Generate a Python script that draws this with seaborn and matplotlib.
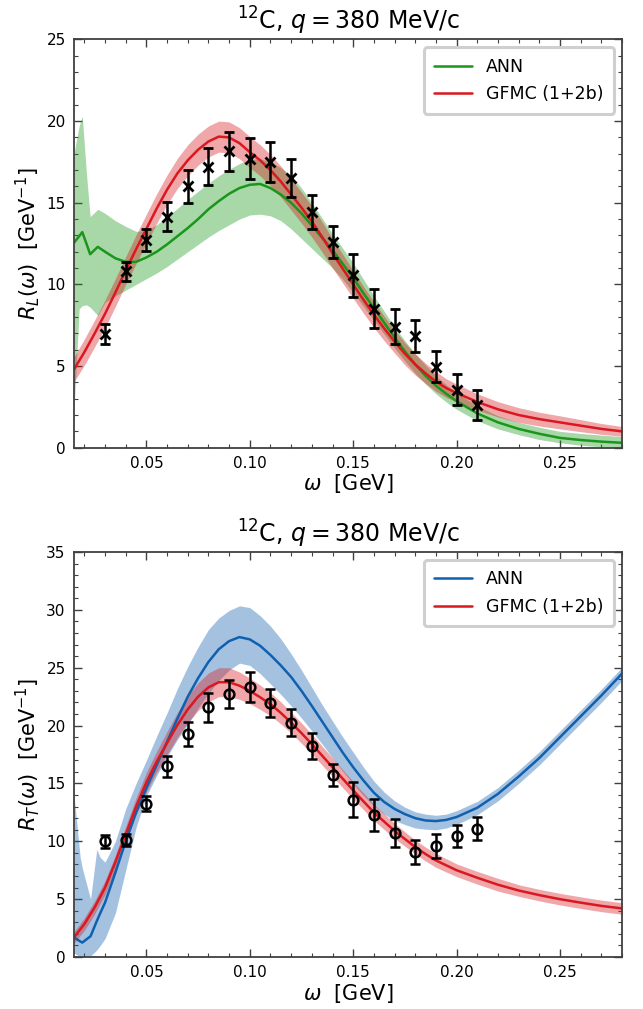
import numpy as np
import pandas as pd
import matplotlib
matplotlib.use("Agg")
import matplotlib.pyplot as plt
import seaborn as sns
from matplotlib.ticker import MultipleLocator, FormatStrFormatter

# ---- data ----
# experimental points (same omega grid for both panels)
omega_data = [0.03, 0.04, 0.05, 0.06, 0.07, 0.08, 0.09, 0.10, 0.11, 0.12,
              0.13, 0.14, 0.15, 0.16, 0.17, 0.18, 0.19, 0.20, 0.21]
RL_data = [6.95, 10.8, 12.72, 14.15, 16.0, 17.2, 18.15, 17.7, 17.5, 16.5,
           14.45, 12.6, 10.55, 8.5, 7.4, 6.85, 4.95, 3.55, 2.6]
RL_err = [0.63, 0.6, 0.7, 0.87, 1.0, 1.14, 1.18, 1.25, 1.2, 1.15,
          1.05, 1.0, 1.3, 1.2, 1.07, 0.97, 0.95, 0.94, 0.93]
RT_data = [10.0, 10.1, 13.25, 16.5, 19.3, 21.6, 22.7, 23.3, 21.95, 20.25,
           18.25, 15.75, 13.6, 12.25, 10.7, 9.05, 9.6, 10.45, 11.1]
RT_err = [0.55, 0.5, 0.65, 0.9, 1.05, 1.25, 1.2, 1.3, 1.2, 1.15,
          1.1, 0.95, 1.5, 1.4, 1.2, 1.05, 1.03, 0.98, 1.0]

# ANN longitudinal response (central line and band edges)
omega_ann_L = [0.015, 0.0175, 0.019, 0.021, 0.0228, 0.0265, 0.03, 0.035, 0.04, 0.045,
               0.05, 0.055, 0.06, 0.065, 0.07, 0.075, 0.08, 0.085, 0.09, 0.095,
               0.10, 0.105, 0.11, 0.115, 0.12, 0.125, 0.13, 0.135, 0.14, 0.145,
               0.15, 0.155, 0.16, 0.165, 0.17, 0.175, 0.18, 0.185, 0.19, 0.195,
               0.20, 0.21, 0.22, 0.23, 0.24, 0.25, 0.26, 0.27, 0.28]
ann_L = [12.55, 12.95, 13.2, 12.5, 11.85, 12.3, 12.0, 11.6, 11.38, 11.38,
         11.65, 12.0, 12.45, 12.95, 13.45, 14.0, 14.6, 15.1, 15.55, 15.9,
         16.1, 16.15, 15.9, 15.5, 15.0, 14.35, 13.6, 12.85, 12.1, 11.25,
         10.4, 9.45, 8.55, 7.65, 6.75, 5.9, 5.1, 4.4, 3.8, 3.3,
         2.85, 2.1, 1.55, 1.15, 0.85, 0.6, 0.47, 0.37, 0.3]
ann_L_lo = [2.3, 8.5, 8.7, 8.75, 8.6, 8.1, 8.9, 9.3, 9.65, 10.0,
            10.35, 10.7, 11.1, 11.55, 12.0, 12.45, 12.9, 13.3, 13.65, 14.0,
            14.25, 14.3, 14.2, 13.9, 13.4, 12.8, 12.2, 11.6, 11.0, 10.3,
            9.5, 8.65, 7.8, 6.95, 6.1, 5.3, 4.55, 3.9, 3.3, 2.8,
            2.35, 1.65, 1.15, 0.8, 0.5, 0.3, 0.15, 0.05, 0.0]
ann_L_hi = [18.05, 19.7, 20.3, 16.8, 14.15, 14.6, 14.35, 13.9, 13.55, 13.25,
            13.3, 13.65, 14.15, 14.65, 15.2, 15.7, 16.2, 16.65, 17.05, 17.4,
            17.65, 17.7, 17.5, 17.15, 16.65, 15.9, 15.0, 14.05, 13.1, 12.2,
            11.3, 10.3, 9.3, 8.35, 7.4, 6.55, 5.75, 5.05, 4.4, 3.85,
            3.35, 2.55, 1.95, 1.55, 1.25, 1.0, 0.87, 0.77, 0.68]

# GFMC longitudinal response
omega_gfmc_L = [0.015, 0.02, 0.025, 0.03, 0.035, 0.04, 0.045, 0.05, 0.055, 0.06,
                0.065, 0.07, 0.075, 0.08, 0.085, 0.09, 0.095, 0.10, 0.105, 0.11,
                0.115, 0.12, 0.125, 0.13, 0.135, 0.14, 0.145, 0.15, 0.155, 0.16,
                0.165, 0.17, 0.175, 0.18, 0.185, 0.19, 0.195, 0.20, 0.21, 0.22,
                0.23, 0.24, 0.25, 0.26, 0.27, 0.28]
gfmc_L = [4.8, 5.85, 7.0, 8.2, 9.5, 10.85, 12.15, 13.4, 14.65, 15.8,
          16.8, 17.6, 18.25, 18.75, 19.05, 19.0, 18.65, 18.1, 17.6, 17.0,
          16.3, 15.5, 14.7, 13.85, 12.9, 11.9, 10.95, 10.0, 9.05, 8.15,
          7.3, 6.5, 5.75, 5.1, 4.55, 4.05, 3.65, 3.35, 2.8, 2.35,
          2.0, 1.75, 1.55, 1.35, 1.15, 1.0]
gfmc_L_err = [0.75, 0.8, 0.82, 0.85, 0.85, 0.85, 0.88, 0.9, 0.9, 0.9,
              0.92, 0.95, 0.95, 0.95, 0.95, 0.95, 0.95, 0.95, 0.95, 0.95,
              0.95, 0.95, 0.95, 0.95, 0.92, 0.9, 0.88, 0.85, 0.82, 0.8,
              0.75, 0.7, 0.68, 0.65, 0.62, 0.6, 0.57, 0.55, 0.5, 0.47,
              0.45, 0.42, 0.4, 0.37, 0.33, 0.3]

# ANN transverse response
omega_ann_T = [0.015, 0.018, 0.019, 0.023, 0.026, 0.0277, 0.03, 0.035, 0.04, 0.045,
               0.05, 0.055, 0.06, 0.065, 0.07, 0.075, 0.08, 0.085, 0.09, 0.095,
               0.10, 0.105, 0.11, 0.115, 0.12, 0.125, 0.13, 0.135, 0.14, 0.145,
               0.15, 0.155, 0.16, 0.165, 0.17, 0.175, 0.18, 0.185, 0.19, 0.195,
               0.20, 0.21, 0.22, 0.23, 0.24, 0.25, 0.26, 0.27, 0.28]
ann_T = [1.7, 1.35, 1.25, 1.8, 3.1, 3.8, 4.7, 7.3, 10.0, 12.5,
         14.6, 16.6, 18.6, 20.6, 22.5, 24.1, 25.5, 26.6, 27.3, 27.65,
         27.45, 26.9, 26.1, 25.2, 24.2, 23.0, 21.7, 20.35, 19.0, 17.65,
         16.4, 15.25, 14.2, 13.4, 12.8, 12.35, 12.0, 11.8, 11.75, 11.85,
         12.1, 12.9, 14.1, 15.6, 17.2, 19.0, 20.8, 22.6, 24.5]
ann_T_lo = [0.35, 0.0, 0.0, 0.1, 0.6, 1.0, 1.6, 3.8, 7.5, 11.2,
            13.9, 15.7, 17.3, 18.8, 20.1, 21.5, 22.8, 23.9, 24.8, 25.4,
            25.2, 24.5, 23.6, 22.7, 21.7, 20.65, 19.55, 18.4, 17.2, 16.05,
            14.95, 13.95, 13.05, 12.35, 11.8, 11.45, 11.15, 11.05, 11.0, 11.15,
            11.45, 12.3, 13.5, 15.0, 16.6, 18.4, 20.2, 22.0, 23.9]
ann_T_hi = [14.0, 8.6, 7.7, 5.0, 9.3, 8.6, 8.2, 10.0, 12.8, 15.0,
            17.0, 19.1, 21.1, 23.2, 25.1, 26.8, 28.3, 29.3, 29.95, 30.35,
            30.2, 29.5, 28.6, 27.5, 26.2, 24.8, 23.3, 21.8, 20.4, 19.0,
            17.7, 16.4, 15.2, 14.25, 13.5, 12.95, 12.55, 12.35, 12.25, 12.35,
            12.65, 13.45, 14.65, 16.15, 17.75, 19.55, 21.35, 23.15, 25.05]

# GFMC transverse response
omega_gfmc_T = [0.015, 0.02, 0.025, 0.03, 0.035, 0.04, 0.045, 0.05, 0.055, 0.06,
                0.065, 0.07, 0.075, 0.08, 0.085, 0.09, 0.095, 0.10, 0.105, 0.11,
                0.115, 0.12, 0.125, 0.13, 0.135, 0.14, 0.145, 0.15, 0.155, 0.16,
                0.165, 0.17, 0.175, 0.18, 0.185, 0.19, 0.20, 0.21, 0.22, 0.23,
                0.24, 0.25, 0.26, 0.27, 0.28]
gfmc_T = [1.7, 2.85, 4.3, 6.0, 8.2, 10.6, 13.0, 15.1, 16.9, 18.5,
          20.05, 21.4, 22.5, 23.3, 23.75, 23.75, 23.45, 23.0, 22.45, 21.85,
          21.1, 20.25, 19.35, 18.4, 17.4, 16.4, 15.4, 14.4, 13.45, 12.5,
          11.7, 10.9, 10.2, 9.5, 8.9, 8.35, 7.5, 6.85, 6.25, 5.75,
          5.35, 5.0, 4.7, 4.42, 4.2]
gfmc_T_err = [0.5, 0.55, 0.57, 0.6, 0.62, 0.7, 0.75, 0.85, 0.9, 1.0,
              1.08, 1.15, 1.2, 1.25, 1.25, 1.25, 1.18, 1.1, 1.05, 1.0,
              0.95, 0.9, 0.88, 0.85, 0.82, 0.8, 0.78, 0.75, 0.72, 0.7,
              0.68, 0.65, 0.62, 0.6, 0.6, 0.6, 0.55, 0.55, 0.55, 0.5,
              0.5, 0.5, 0.5, 0.5, 0.5]

GREEN = "#1a961a"
RED = "#d9181f"
BLUE = "#1060b0"
SPINE = "#404040"

sns.set_style("ticks")
plt.rcParams["font.family"] = ["DejaVu Sans"]
plt.rcParams["mathtext.fontset"] = "dejavusans"
plt.rcParams["text.color"] = "black"
plt.rcParams["axes.labelcolor"] = "black"


def style_axes(ax, ymax, ylabel):
    ax.set_xlim(0.015, 0.28)
    ax.set_ylim(0, ymax)
    ax.xaxis.set_major_locator(MultipleLocator(0.05))
    ax.xaxis.set_minor_locator(MultipleLocator(0.01))
    ax.xaxis.set_major_formatter(FormatStrFormatter("%.2f"))
    ax.yaxis.set_major_locator(MultipleLocator(5))
    ax.yaxis.set_minor_locator(MultipleLocator(1))
    ax.tick_params(which="both", direction="in", top=True, right=True,
                   color=SPINE, labelcolor="black", labelsize=11, pad=6)
    ax.tick_params(which="major", length=6, width=1.0)
    ax.tick_params(which="minor", length=3, width=0.8)
    for s in ax.spines.values():
        s.set_color(SPINE)
        s.set_linewidth(1.3)
    ax.set_xlabel(r"$\omega$  [GeV]", fontsize=15, labelpad=1)
    ax.set_ylabel(ylabel, fontsize=15, labelpad=3)
    ax.set_title(r"$^{12}$C, $q = 380$ MeV/c", fontsize=17, pad=7)
    leg = ax.legend(loc="upper right", fontsize=12.5, fancybox=True,
                    framealpha=1.0, borderpad=0.6, handlelength=2.2,
                    labelspacing=0.55, borderaxespad=0.45)
    leg.get_frame().set_edgecolor("#cfcfcf")
    leg.get_frame().set_linewidth(2.2)


def draw_band(ax, om, lo, hi, color):
    ax.fill_between(om, lo, hi, color=color, alpha=0.38, lw=0)


fig = plt.figure(figsize=(6.43, 10.09), dpi=100)
ax1 = fig.add_axes([0.1151, 0.5563, 0.8523, 0.4046])
ax2 = fig.add_axes([0.1151, 0.0515, 0.8523, 0.4014])

# --- longitudinal ---
ann_L_df = pd.DataFrame({"omega": omega_ann_L, "R": ann_L})
gfmc_L_df = pd.DataFrame({"omega": omega_gfmc_L, "R": gfmc_L})
gl = np.array(gfmc_L)
gle = np.array(gfmc_L_err)
draw_band(ax1, omega_ann_L, ann_L_lo, ann_L_hi, GREEN)
draw_band(ax1, omega_gfmc_L, gl - gle, gl + gle, RED)
sns.lineplot(data=ann_L_df, x="omega", y="R", ax=ax1, color=GREEN, lw=1.8,
             estimator=None, label="ANN")
sns.lineplot(data=gfmc_L_df, x="omega", y="R", ax=ax1, color=RED, lw=1.8,
             estimator=None, label="GFMC (1+2b)")
ax1.errorbar(omega_data, RL_data, yerr=RL_err, fmt="x", color="black",
             ms=7, mew=2, elinewidth=1.8, capsize=3.5, capthick=1.8, zorder=5)
style_axes(ax1, 25, r"$R_L(\omega)$  [GeV$^{-1}$]")

# --- transverse ---
ann_T_df = pd.DataFrame({"omega": omega_ann_T, "R": ann_T})
gfmc_T_df = pd.DataFrame({"omega": omega_gfmc_T, "R": gfmc_T})
gt = np.array(gfmc_T)
gte = np.array(gfmc_T_err)
draw_band(ax2, omega_ann_T, ann_T_lo, ann_T_hi, BLUE)
draw_band(ax2, omega_gfmc_T, gt - gte, gt + gte, RED)
sns.lineplot(data=ann_T_df, x="omega", y="R", ax=ax2, color=BLUE, lw=1.8,
             estimator=None, label="ANN")
sns.lineplot(data=gfmc_T_df, x="omega", y="R", ax=ax2, color=RED, lw=1.8,
             estimator=None, label="GFMC (1+2b)")
ax2.errorbar(omega_data, RT_data, yerr=RT_err, fmt="o", color="black",
             mfc="none", ms=7, mew=1.8, elinewidth=1.8, capsize=3.5,
             capthick=1.8, zorder=5)
style_axes(ax2, 35, r"$R_T(\omega)$  [GeV$^{-1}$]")

fig.savefig("out.png", dpi=100)
